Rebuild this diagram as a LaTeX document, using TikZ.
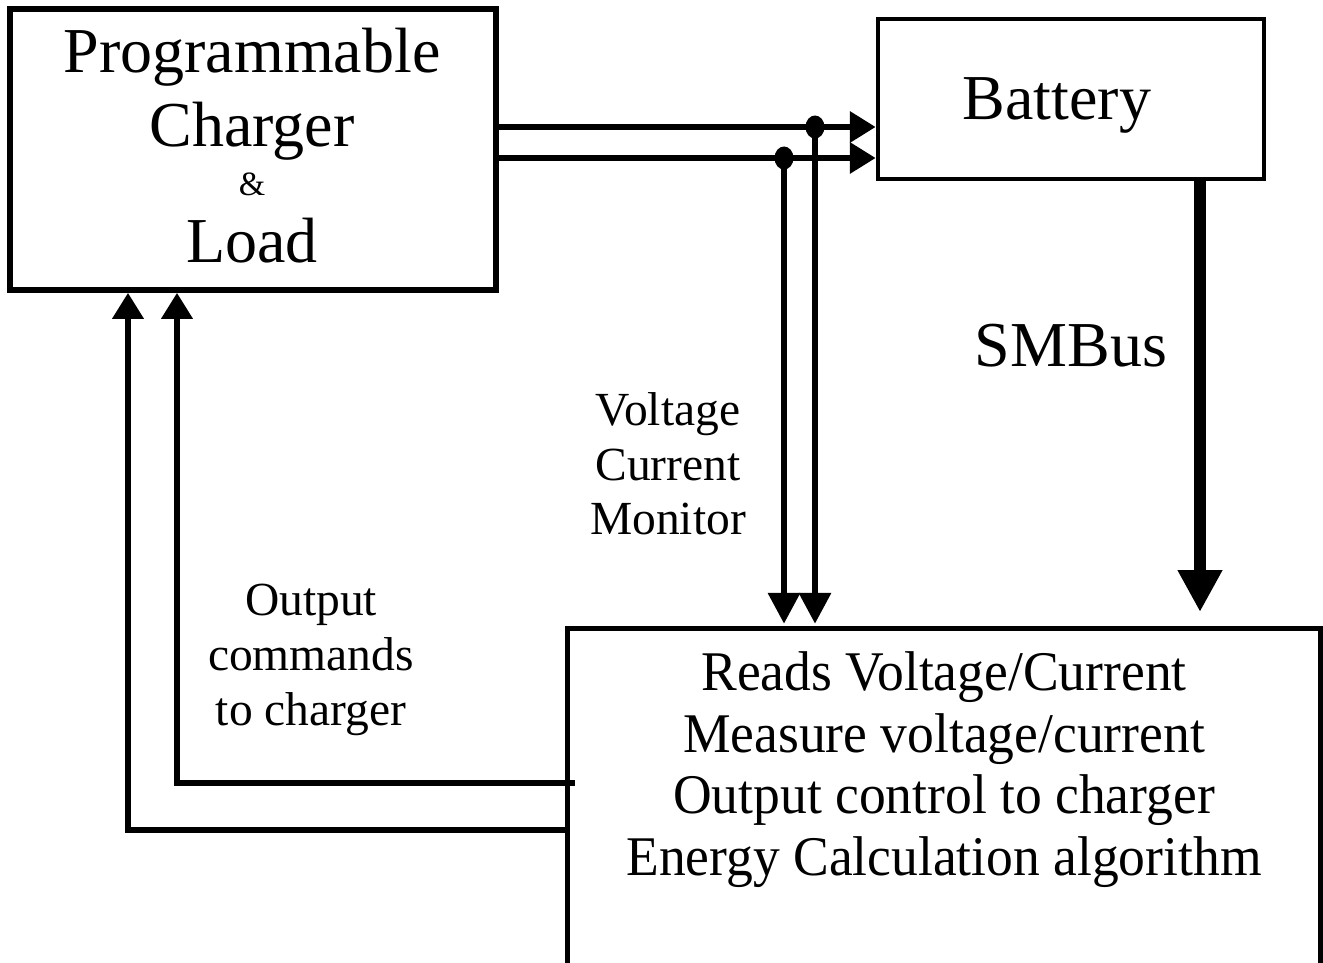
\documentclass[tikz,border=0pt]{standalone}
\usepackage{fontspec}
\setmainfont{Liberation Serif}
\newfontfamily\narrowserif[FakeStretch=0.956]{Liberation Serif}
\usetikzlibrary{arrows.meta,shapes.geometric}
\begin{document}
\begin{tikzpicture}[x=1pt,y=-1pt,
  box/.style={draw, line width=5.5pt, inner sep=0pt},
  conn/.style={line width=6.5pt},
  lbl/.style={inner sep=0pt, anchor=base},
  big/.style={font=\fontsize{64}{70}\selectfont},
  mid/.style={font=\fontsize{47.5}{52}\selectfont},
  body/.style={font=\narrowserif\fontsize{56}{62}\selectfont},
  dot/.style={ellipse, fill=black, draw=none, inner sep=0pt, minimum width=19pt, minimum height=23pt},
  tipA/.style={-{Triangle[length=26pt,width=30pt]}},
  tipB/.style={-{Triangle[length=31pt,width=31pt]}},
  tipC/.style={-{Triangle[length=42pt,width=42pt]}}]
\useasboundingbox (0,0) rectangle (1323,963);
\clip (0,0) rectangle (1323,963);
% boxes
\node[box, minimum width=486pt, minimum height=281pt] (charger) at (253,149.5) {};
\node[box, line width=4.5pt, minimum width=386pt, minimum height=160pt] (battery) at (1071,99) {};
\node[inner sep=0pt, minimum width=752pt, minimum height=360pt] (ctrl) at (944,809) {};
\draw[line width=5pt] (ctrl.south west) -- (ctrl.north west) -- (ctrl.north east) -- (ctrl.south east);
% texts
\node[lbl,big] (t1) at (252,73) {Programmable};
\node[lbl,big] (t2) at (252,147) {Charger};
\node[lbl,font=\fontsize{34}{38}\selectfont] (t3) at (252,195) {\&};
\node[lbl,big] (t4) at (252,262) {Load};
\node[lbl,big] (tb) at (1057,120) {Battery};
\node[lbl,big] (tsm) at (1071,366) {SMBus};
\node[lbl,mid] (v1) at (668,425) {Voltage};
\node[lbl,mid] (v2) at (668,480) {Current};
\node[lbl,mid] (v3) at (668,534) {Monitor};
\node[lbl,mid] (o1) at (311,615) {Output};
\node[lbl,mid] (o2) at (311,670) {commands};
\node[lbl,mid] (o3) at (311,725) {to charger};
\node[lbl,body] (b1) at (944,690) {Reads Voltage/Current};
\node[lbl,body] (b2) at (944,752) {Measure voltage/current};
\node[lbl,body] (b3) at (944,813) {Output control to charger};
\node[lbl,body] (b4) at (944,875) {Energy Calculation algorithm};
% connectors
\coordinate (p1) at (815,127);
\coordinate (p2) at (784,158);
\coordinate (sb) at (1200,612);
\coordinate (q1) at (128,830);
\coordinate (q2) at (177,783);
\draw[conn,tipA] (charger.east |- p1) -- (battery.west |- p1);
\draw[conn,tipA] (charger.east |- p2) -- (battery.west |- p2);
\node[dot] (d1) at (p1) {};
\node[dot] (d2) at (p2) {};
\draw[conn,tipB,shorten >=5pt] (d1.center) -- (d1.center |- ctrl.north);
\draw[conn,tipB,shorten >=5pt] (d2.center) -- (d2.center |- ctrl.north);
\draw[line width=12pt,tipC] (battery.south -| sb) -- (sb);
\draw[conn,tipA] (ctrl.west |- q1) -- (q1) -- (q1 |- charger.south);
\draw[conn,tipA] ([xshift=7pt]ctrl.west |- q2) -- (q2) -- (q2 |- charger.south);
\end{tikzpicture}
\end{document}
